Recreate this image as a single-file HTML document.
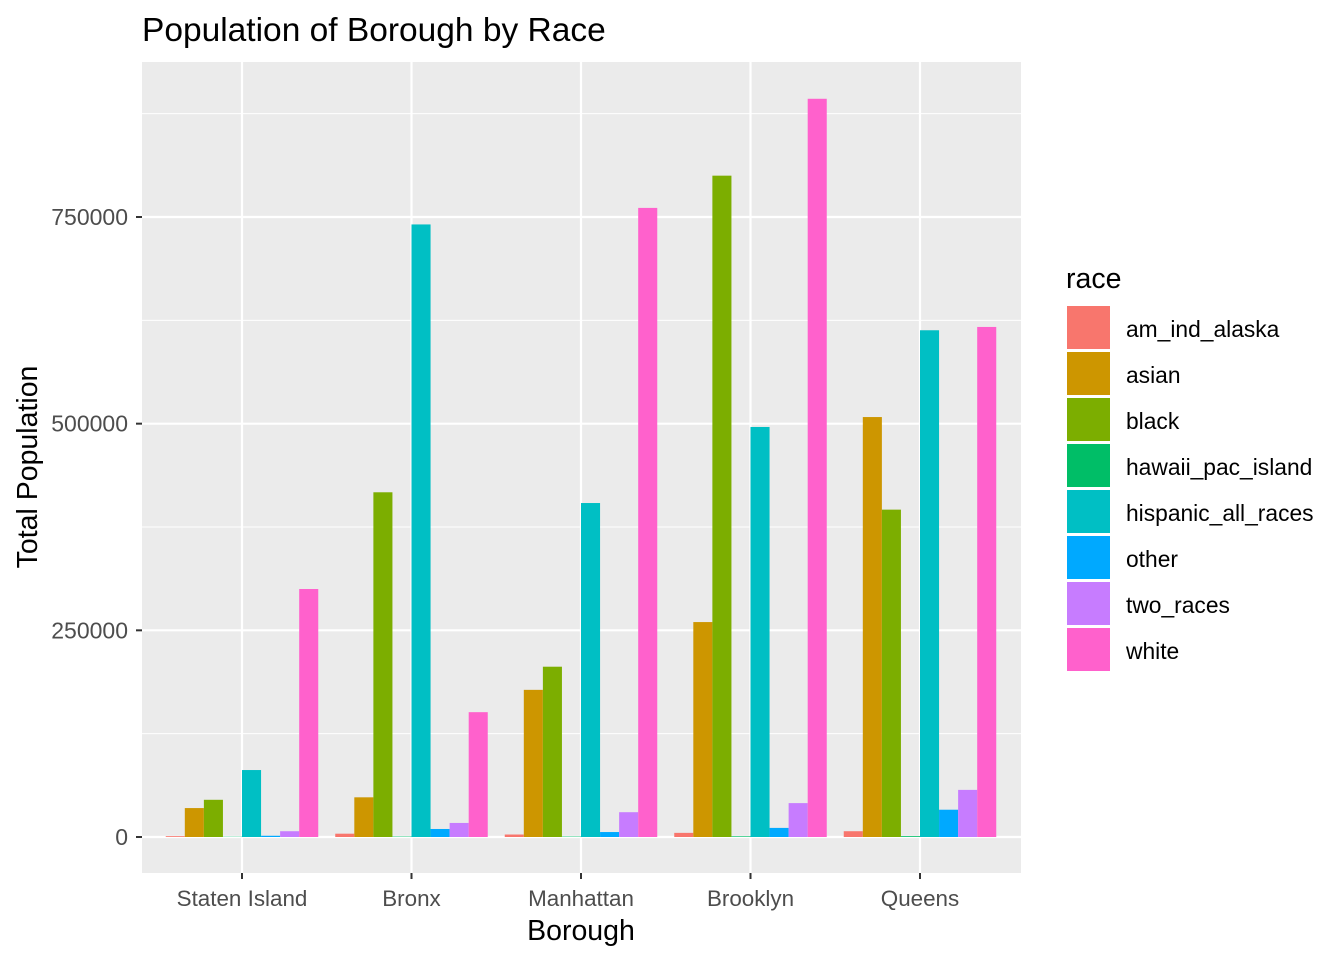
<!DOCTYPE html>
<html><head><meta charset="utf-8"><style>
body{margin:0;background:#fff;font-family:"Liberation Sans",Arial,sans-serif}
</style></head><body>
<svg id="chart" width="1344" height="960" xmlns="http://www.w3.org/2000/svg" font-family="Liberation Sans, Arial, sans-serif">
<rect width="1344" height="960" fill="#fff"/>
<text x="142" y="41" font-size="33.5" fill="#000">Population of Borough by Race</text>
<rect x="142" y="62" width="879" height="811" fill="#EBEBEB"/>
<g id="grid"></g><g id="bars"></g><g id="axes"></g><g id="legend"></g>
<text x="581" y="940" font-size="28.5" text-anchor="middle">Borough</text>
<text transform="translate(37,467) rotate(-90)" font-size="28.5" text-anchor="middle">Total Population</text>
</svg>
<script>
const categories=["Staten Island","Bronx","Manhattan","Brooklyn","Queens"];
const races=["am_ind_alaska","asian","black","hawaii_pac_island","hispanic_all_races","other","two_races","white"];
const colors=["#F8766D","#CD9600","#7CAE00","#00BE67","#00BFC4","#00A9FF","#C77CFF","#FF61CC"];
const am_ind_alaska=[1000,4000,3000,5000,7000];
const asian=[35000,48000,178000,260000,508000];
const black=[45000,417000,206000,800000,396000];
const hawaii_pac_island=[300,500,500,800,1000];
const hispanic_all_races=[81000,741000,404000,496000,613000];
const other=[1500,9700,6000,11000,33000];
const two_races=[7000,17000,30000,41000,57000];
const white=[300000,151000,761000,893000,617000];
const series=[am_ind_alaska,asian,black,hawaii_pac_island,hispanic_all_races,other,two_races,white];
const yTicks=[0,250000,500000,750000];
const yMinor=[125000,375000,625000,875000];
const NS="http://www.w3.org/2000/svg";
const y=v=>837-v*(620/750000);
const xc=i=>242+i*169.5;
function mk(tag,attrs,parent,text){const e=document.createElementNS(NS,tag);for(const k in attrs)e.setAttribute(k,attrs[k]);if(text!==undefined)e.textContent=text;document.getElementById(parent).appendChild(e);return e;}
yMinor.forEach(v=>{const l=mk('line',{x1:142,x2:1021,y1:y(v),y2:y(v),stroke:'#fff','stroke-width':1},'grid');

});
yTicks.forEach(v=>{const l=mk('line',{x1:142,x2:1021,y1:y(v),y2:y(v),stroke:'#fff','stroke-width':2.2},'grid');


const t=mk('line',{x1:136,x2:142,y1:y(v),y2:y(v),stroke:'#333','stroke-width':2},'axes');


const tx=mk('text',{x:128,y:y(v)+8,'font-size':23,fill:'#4D4D4D','text-anchor':'end'},'axes',String(v));

});
categories.forEach((c,i)=>{const l=mk('line',{x1:xc(i),x2:xc(i),y1:62,y2:873,stroke:'#fff','stroke-width':2.2},'grid');


const t=mk('line',{x1:xc(i),x2:xc(i),y1:873,y2:879,stroke:'#333','stroke-width':2},'axes');


const tx=mk('text',{x:xc(i),y:906,'font-size':22.4,fill:'#4D4D4D','text-anchor':'middle'},'axes',c);


const bw=152.5/8;
series.forEach((s,j)=>{const x0=xc(i)-76.25+j*bw;const r=mk('rect',{x:x0,y:y(s[i]),width:bw,height:Math.max(0,y(0)-y(s[i])),fill:colors[j]},'bars');

});});
const lt=mk('text',{x:1066,y:288,'font-size':28.5},'legend','race');


races.forEach((r,j)=>{const yy=306+j*46;
const k=mk('rect',{x:1067,y:yy,width:43,height:43,fill:colors[j]},'legend');


const t=mk('text',{x:1126,y:yy+31,'font-size':22.8},'legend',r);

});
</script>
</body></html>
